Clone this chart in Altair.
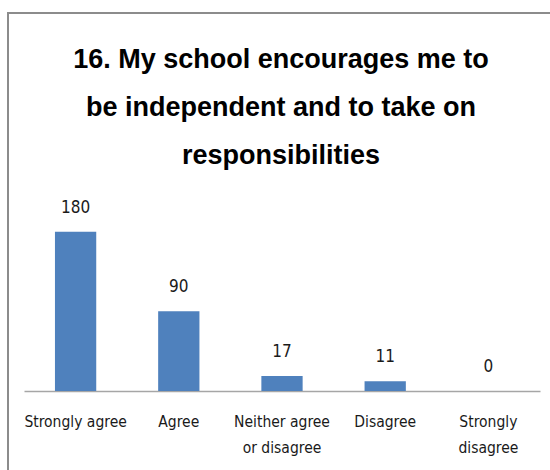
import altair as alt
import pandas as pd

categories = ["Strongly agree", "Agree", "Neither agree or disagree", "Disagree", "Strongly disagree"]
tick_lines = [["Strongly agree"], ["Agree"], ["Neither agree", "or disagree"], ["Disagree"], ["Strongly", "disagree"]]
counts = [180, 90, 17, 11, 0]
title_lines = ["16. My school encourages me to", "be independent and to take on", "responsibilities"]

df = pd.DataFrame({"category": categories, "count": counts})
one = pd.DataFrame({"k": [0]})

FONT = "DejaVu Sans Condensed"
TITLE_FONT = "Liberation Sans"

label_expr = " : ".join(
    f"datum.value == '{c}' ? {repr(lines)}" for c, lines in zip(categories, tick_lines)
) + " : datum.label"

x = alt.X("category:N", sort=categories, title=None,
          scale=alt.Scale(paddingInner=0.6, paddingOuter=0.3),
          axis=alt.Axis(labelAngle=0, labelExpr=label_expr, ticks=False,
                        domainColor="#A6A6A6", domainWidth=1.5,
                        labelFont=FONT, labelFontSize=15.5, labelColor="#1a1a1a",
                        labelPadding=23, labelLineHeight=26, labelBaseline="top"))
y = alt.Y("count:Q", scale=alt.Scale(domain=[0, 200]), axis=None)

bars = alt.Chart(df).mark_bar(color="#4F81BD").encode(x=x, y=y)
labels = alt.Chart(df).mark_text(dy=-15, font=FONT, fontSize=17, color="#1a1a1a", baseline="bottom").encode(
    x=alt.X("category:N", sort=categories), y="count:Q", text="count:Q")

title = alt.Chart(one).mark_text(
    text=title_lines, font=TITLE_FONT, fontSize=27, fontWeight="bold", color="#000000",
    align="center", baseline="top", lineHeight=48).encode(
    x=alt.value(257), y=alt.value(-167))

border_v = alt.Chart(one).mark_rule(color="#8C8C8C", strokeWidth=2).encode(
    x=alt.value(-16), y=alt.value(-201), y2=alt.value(400))
border_h = alt.Chart(one).mark_rule(color="#8C8C8C", strokeWidth=2).encode(
    x=alt.value(-17), x2=alt.value(600), y=alt.value(-201))

chart = alt.layer(border_v, border_h, bars, labels, title).properties(
    width=516, height=177, background="white",
    autosize=alt.AutoSizeParams(type="none"),
    padding={"left": 24, "right": 10, "top": 214, "bottom": 79},
).configure_view(strokeWidth=0, stroke="transparent")

chart.save("out.html", embed_options={"renderer": "svg", "actions": False})
